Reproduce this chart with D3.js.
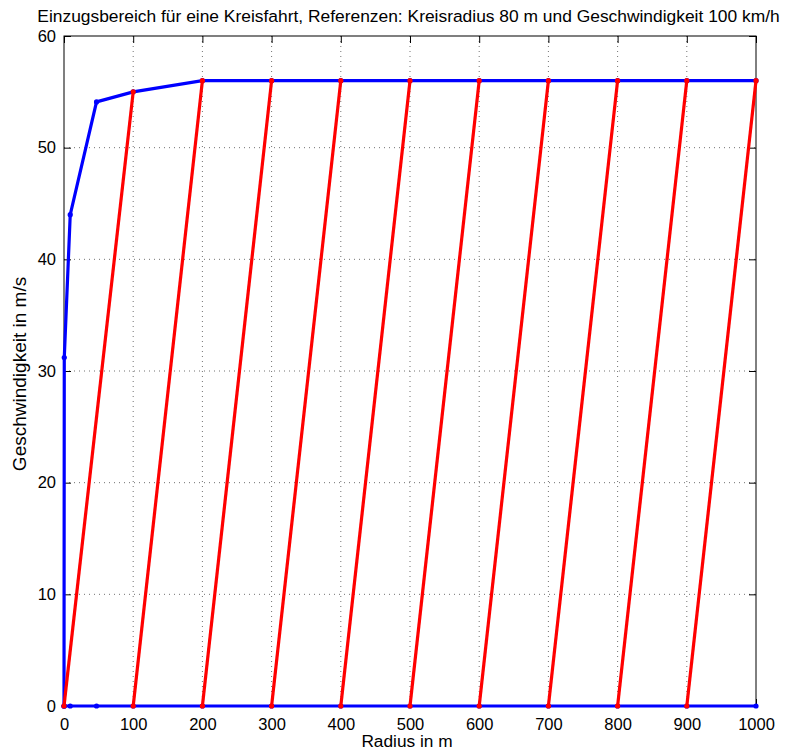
<!DOCTYPE html>
<html>
<head>
<meta charset="utf-8">
<script src="https://cdn.jsdelivr.net/npm/d3@7/dist/d3.min.js"></script>
<style>
  body { margin: 0; background: #fff; }
  svg text { font-family: "Liberation Sans", Arial, Helvetica, sans-serif; fill: #000; }
</style>
</head>
<body>
<svg id="chart" width="792" height="751"></svg>
<script>
// Catchment area boundary (blue): radius [m] and maximum speed [m/s]
const radius   = [0, 0.4, 9, 47, 100, 200, 300, 400, 500, 600, 700, 800, 900, 1000];
const vUpper   = [0, 31.2, 44, 54.1, 55, 56, 56, 56, 56, 56, 56, 56, 56, 56];
const vLower   = [0, 0, 0, 0, 0, 0, 0, 0, 0, 0, 0, 0, 0, 0];

// Transition segments (red): start radius at v=0, end radius at v=vEnd
const redStartR = [0, 100, 200, 300, 400, 500, 600, 700, 800, 900];
const redEndR   = [100, 200, 300, 400, 500, 600, 700, 800, 900, 1000];
const redEndV   = [55, 56, 56, 56, 56, 56, 56, 56, 56, 56];

const xTicks = [0, 100, 200, 300, 400, 500, 600, 700, 800, 900, 1000];
const yTicks = [0, 10, 20, 30, 40, 50, 60];

const titleText = "Einzugsbereich für eine Kreisfahrt, Referenzen: Kreisradius 80 m und Geschwindigkeit 100 km/h";
const xLabel = "Radius in m";
const yLabel = "Geschwindigkeit in m/s";

const svg = d3.select("#chart");
const pL = 64, pR = 756, pT = 36, pB = 706;

const x = d3.scaleLinear().domain([0, 1000]).range([pL, pR]);
const y = d3.scaleLinear().domain([0, 60]).range([pB, pT]);

// grid
const grid = svg.append("g").attr("stroke", "#000").attr("stroke-width", 1)
  .attr("stroke-dasharray", "1,4").attr("opacity", 0.55);
xTicks.slice(1, -1).forEach(t => {
  grid.append("line").attr("x1", x(t)).attr("x2", x(t)).attr("y1", pT).attr("y2", pB);
});
yTicks.slice(1, -1).forEach(t => {
  grid.append("line").attr("x1", pL).attr("x2", pR).attr("y1", y(t)).attr("y2", y(t));
});

// axes (ticks pointing inward, mirrored on top/right)
const tickLen = 7;
const fmt = d3.format("d");
const axB = d3.axisBottom(x).tickValues(xTicks).tickFormat(fmt).tickSizeInner(-tickLen).tickSizeOuter(0).tickPadding(12);
const axT = d3.axisTop(x).tickValues(xTicks).tickSizeInner(-tickLen).tickSizeOuter(0).tickFormat("");
const axL = d3.axisLeft(y).tickValues(yTicks).tickFormat(fmt).tickSizeInner(-tickLen).tickSizeOuter(0).tickPadding(8);
const axR = d3.axisRight(y).tickValues(yTicks).tickSizeInner(-tickLen).tickSizeOuter(0).tickFormat("");

function styleAxis(g) {
  g.select(".domain").remove();
  g.selectAll("line").attr("stroke", "#000");
  g.selectAll("text").attr("font-size", 16.5).attr("font-family", "Liberation Sans, Arial, sans-serif");
}
svg.append("g").attr("transform", `translate(0,${pB})`).call(axB).call(styleAxis);
svg.append("g").attr("transform", `translate(0,${pT})`).call(axT).call(styleAxis);
svg.append("g").attr("transform", `translate(${pL},0)`).call(axL).call(styleAxis);
svg.append("g").attr("transform", `translate(${pR},0)`).call(axR).call(styleAxis);

// frame
svg.append("rect").attr("x", pL).attr("y", pT).attr("width", pR - pL).attr("height", pB - pT)
  .attr("fill", "none").attr("stroke", "#000").attr("stroke-width", 1);

// blue boundary
const line = d3.line().x(d => x(d[0])).y(d => y(d[1]));
const upper = radius.map((r, i) => [r, vUpper[i]]);
const lower = radius.map((r, i) => [r, vLower[i]]);
[upper, lower].forEach(pts => {
  svg.append("path").attr("d", line(pts)).attr("fill", "none").attr("stroke", "#0000ff").attr("stroke-width", 3.2);
  svg.append("g").selectAll("circle").data(pts).join("circle")
    .attr("cx", d => x(d[0])).attr("cy", d => y(d[1])).attr("r", 2.6).attr("fill", "#0000ff");
});

// red transitions
redStartR.forEach((r0, i) => {
  const pts = [[r0, 0], [redEndR[i], redEndV[i]]];
  svg.append("path").attr("d", line(pts)).attr("fill", "none").attr("stroke", "#ff0000").attr("stroke-width", 3.2);
  svg.append("g").selectAll("circle").data(pts).join("circle")
    .attr("cx", d => x(d[0])).attr("cy", d => y(d[1])).attr("r", 2.6).attr("fill", "#ff0000");
});

// titles
svg.append("text").attr("x", 408.5).attr("y", 22).attr("text-anchor", "middle")
  .attr("font-size", 17.4).text(titleText);
svg.append("text").attr("x", 407).attr("y", 747).attr("text-anchor", "middle")
  .attr("font-size", 17.3).text(xLabel);
svg.append("text").attr("transform", `translate(26,374) rotate(-90)`)
  .attr("text-anchor", "middle").attr("font-size", 19).text(yLabel);
</script>
</body>
</html>
